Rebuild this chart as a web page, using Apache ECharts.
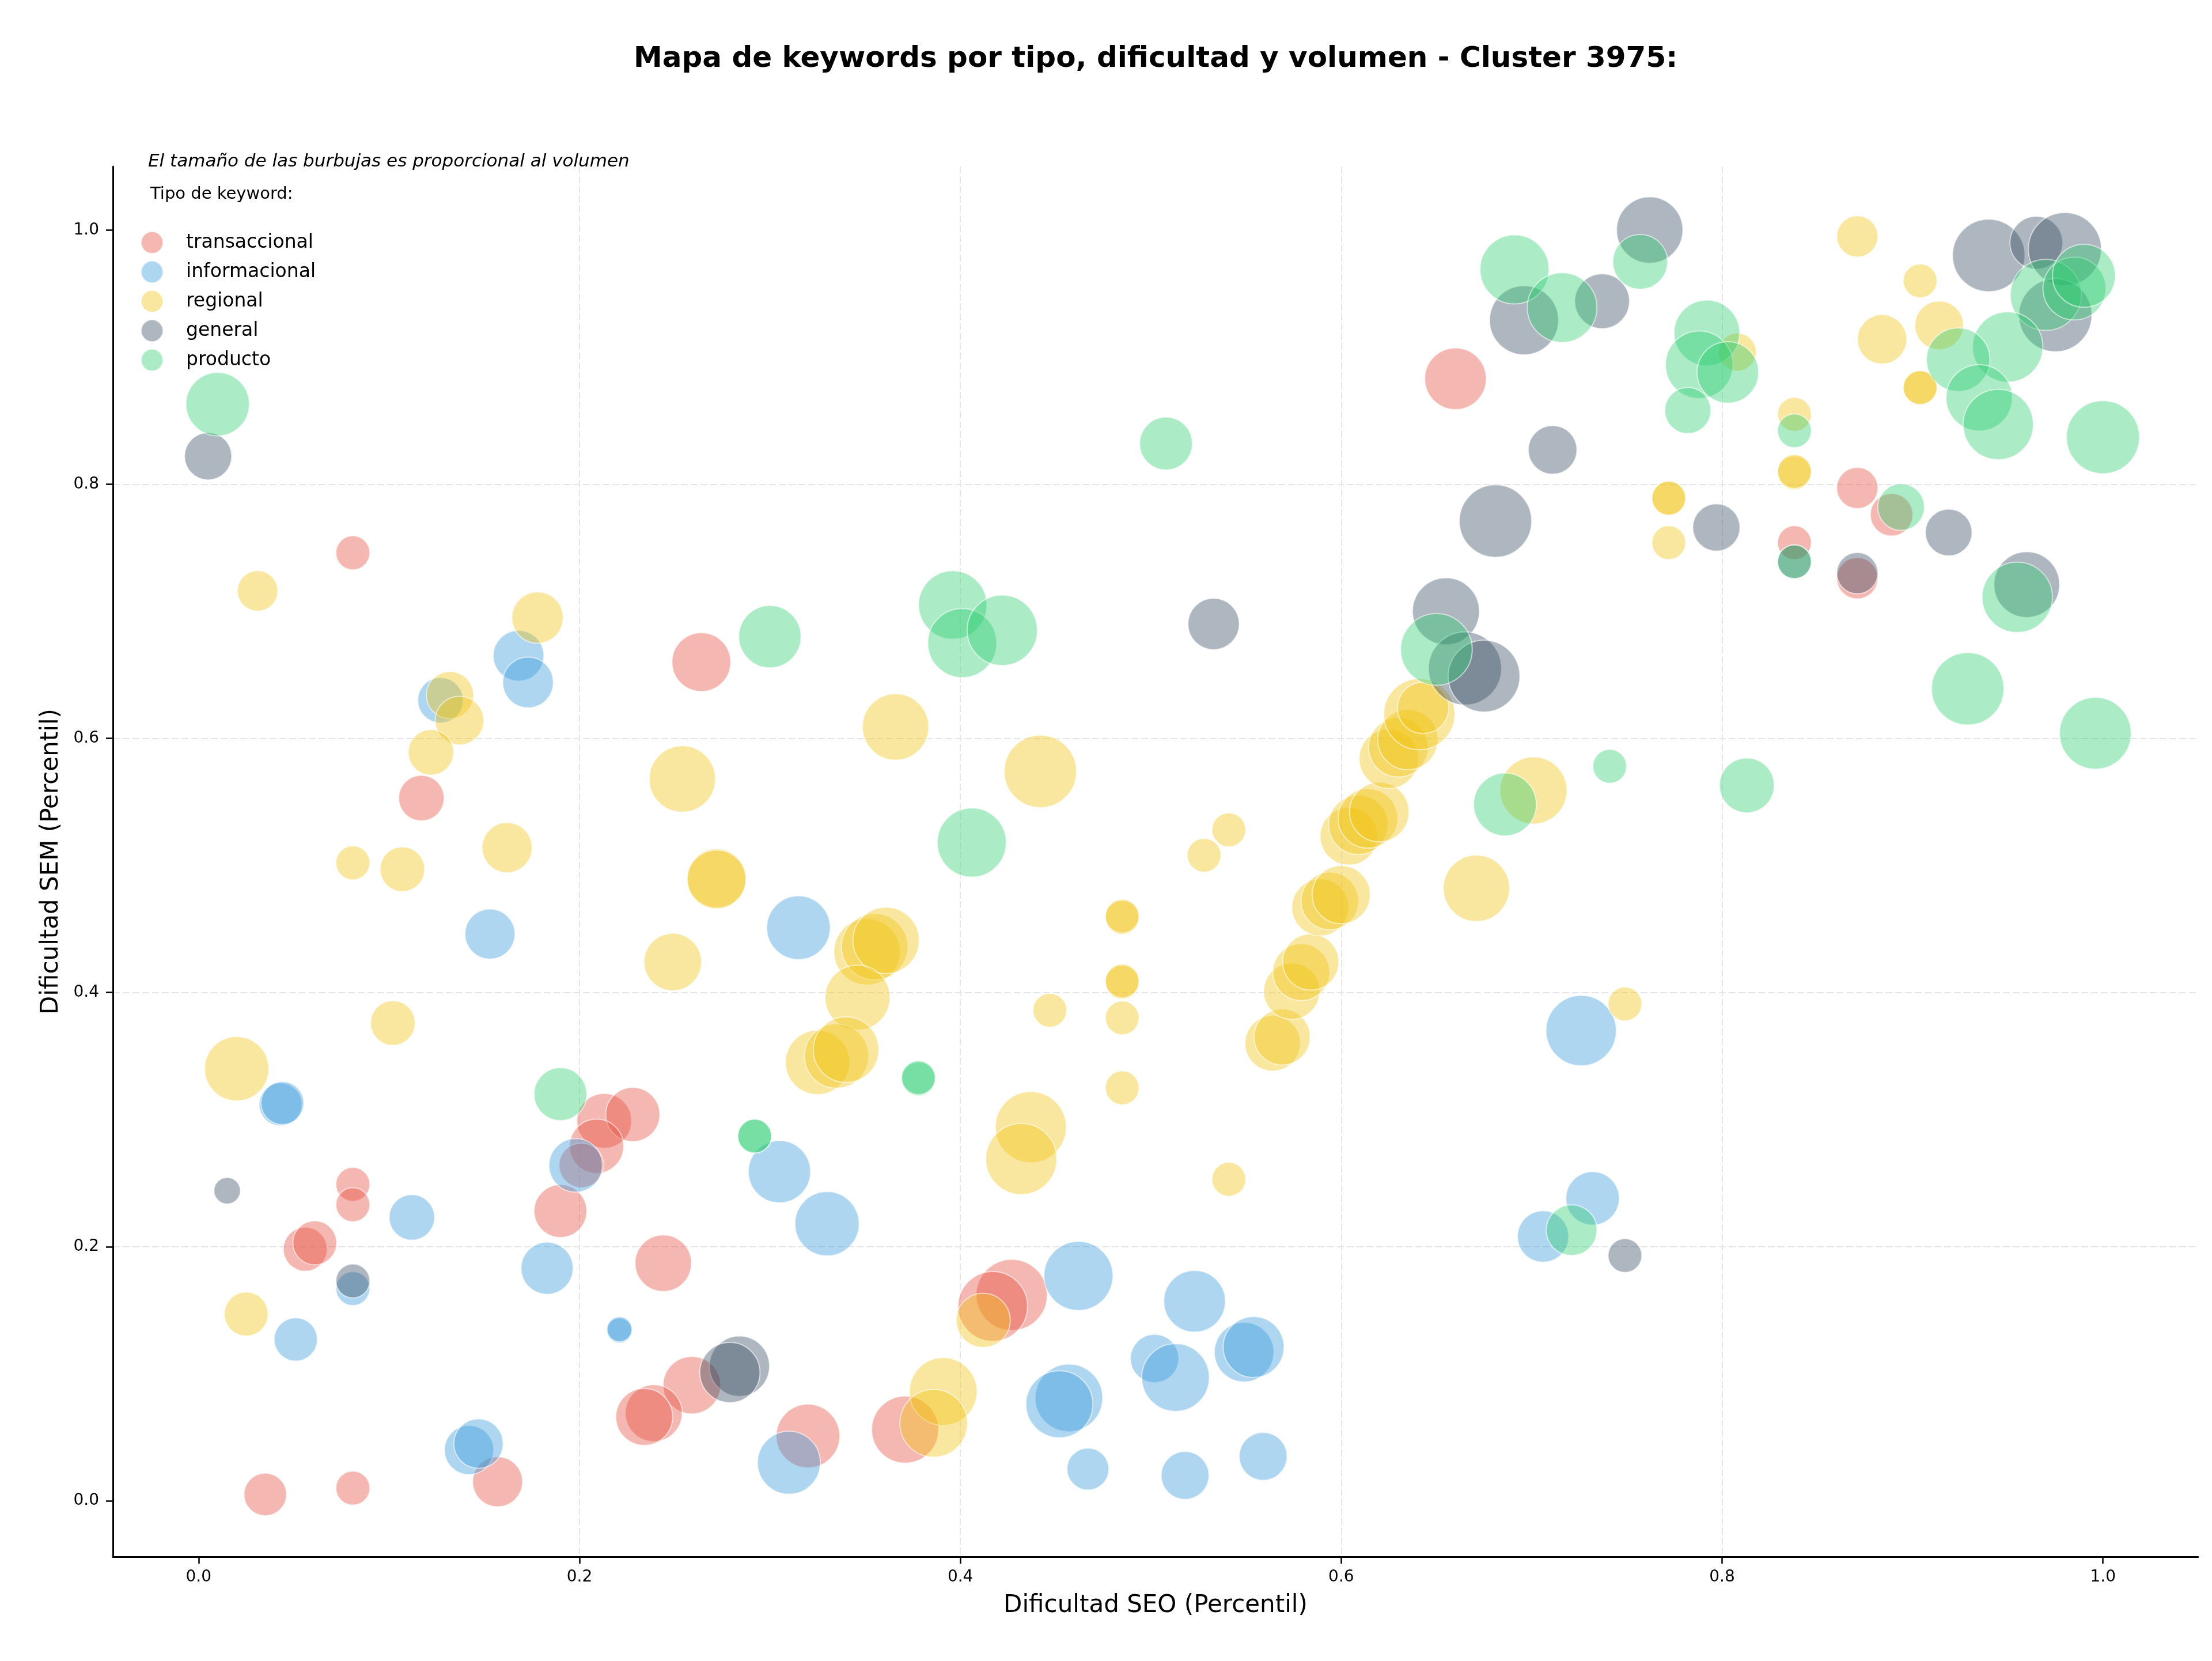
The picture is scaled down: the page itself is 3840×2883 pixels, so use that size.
<!DOCTYPE html>
<html>
<head>
<meta charset="utf-8">
<title>Mapa de keywords - Cluster 3975</title>
<script src="https://cdn.jsdelivr.net/npm/echarts@6.0.0/dist/echarts.min.js"></script>
<style>
  html, body { margin: 0; padding: 0; background: #fff; }
  #chart { width: 3840px; height: 2883px; }
</style>
</head>
<body>
<div id="chart"></div>
<script>
// ejes
const xTicks = [0, 0.2, 0.4, 0.6, 0.8, 1.0];
const yTicks = [0, 0.2, 0.4, 0.6, 0.8, 1.0];

const tipos = ['transaccional', 'informacional', 'regional', 'general', 'producto'];

// transaccional
const transSeo = [0.081, 0.117, 0.081, 0.081, 0.056, 0.061, 0.035, 0.081, 0.157, 0.213, 0.228, 0.209, 0.201, 0.190,
  0.244, 0.259, 0.239, 0.234, 0.320, 0.371, 0.427, 0.417, 0.264, 0.660, 0.838, 0.871, 0.889, 0.871];
const transSem = [0.746, 0.553, 0.249, 0.233, 0.198, 0.203, 0.005, 0.010, 0.015, 0.299, 0.304, 0.279, 0.264, 0.228,
  0.187, 0.091, 0.069, 0.066, 0.051, 0.056, 0.162, 0.153, 0.660, 0.883, 0.754, 0.797, 0.776, 0.726];
const transVol = [217, 390, 217, 217, 363, 363, 341, 217, 472, 564, 551, 551, 375, 524,
  600, 621, 608, 608, 760, 843, 950, 913, 650, 713, 215, 320, 341, 320];

// informacional
const infoSeo = [0.168, 0.173, 0.127, 0.153, 0.043, 0.044, 0.112, 0.081, 0.051, 0.142, 0.147, 0.198, 0.183, 0.221,
  0.221, 0.315, 0.305, 0.330, 0.310, 0.462, 0.457, 0.452, 0.467, 0.502, 0.513, 0.523, 0.549, 0.554,
  0.518, 0.559, 0.726, 0.732, 0.706];
const infoSem = [0.665, 0.644, 0.630, 0.446, 0.312, 0.313, 0.223, 0.167, 0.127, 0.040, 0.045, 0.264, 0.183, 0.134,
  0.135, 0.451, 0.259, 0.218, 0.030, 0.177, 0.081, 0.076, 0.025, 0.112, 0.097, 0.157, 0.117, 0.121,
  0.020, 0.035, 0.370, 0.238, 0.208];
const infoVol = [484, 484, 390, 472, 347, 347, 390, 217, 352, 459, 459, 537, 512, 118,
  118, 760, 729, 777, 745, 896, 860, 843, 331, 441, 860, 714, 666, 697,
  432, 432, 930, 537, 497];

// regional
const regSeo = [0.031, 0.178, 0.132, 0.137, 0.122, 0.081, 0.107, 0.162, 0.102, 0.020, 0.025, 0.272, 0.272, 0.249,
  0.351, 0.355, 0.361, 0.346, 0.325, 0.335, 0.340, 0.485, 0.485, 0.485, 0.485, 0.485, 0.485, 0.447,
  0.437, 0.432, 0.412, 0.391, 0.386, 0.366, 0.254, 0.442, 0.541, 0.564, 0.569, 0.574, 0.579, 0.584,
  0.589, 0.594, 0.600, 0.671, 0.749, 0.528, 0.541, 0.604, 0.609, 0.614, 0.620, 0.625, 0.630, 0.635,
  0.641, 0.643, 0.701, 0.772, 0.772, 0.772, 0.871, 0.904, 0.884, 0.914, 0.904, 0.904, 0.808, 0.838,
  0.838, 0.838];
const regSem = [0.716, 0.695, 0.634, 0.614, 0.589, 0.502, 0.497, 0.514, 0.376, 0.340, 0.147, 0.490, 0.489, 0.424,
  0.432, 0.436, 0.441, 0.396, 0.345, 0.350, 0.355, 0.459, 0.460, 0.408, 0.409, 0.380, 0.325, 0.386,
  0.294, 0.269, 0.142, 0.086, 0.061, 0.609, 0.568, 0.574, 0.253, 0.360, 0.365, 0.401, 0.416, 0.424,
  0.467, 0.472, 0.477, 0.482, 0.391, 0.508, 0.528, 0.523, 0.532, 0.537, 0.542, 0.584, 0.593, 0.599,
  0.619, 0.624, 0.559, 0.789, 0.789, 0.754, 0.995, 0.960, 0.914, 0.925, 0.876, 0.876, 0.904, 0.855,
  0.809, 0.810];
const regVol = [308, 497, 420, 446, 390, 217, 375, 472, 375, 777, 363, 650, 650, 621,
  827, 827, 827, 794, 777, 777, 810, 215, 215, 215, 215, 215, 215, 215,
  950, 950, 551, 860, 860, 827, 827, 986, 215, 579, 593, 593, 608, 593,
  608, 621, 636, 827, 215, 215, 215, 621, 666, 666, 666, 666, 666, 682,
  950, 497, 843, 215, 215, 215, 320, 215, 459, 446, 215, 215, 270, 215,
  215, 215];

// general
const genSeo = [0.005, 0.015, 0.081, 0.284, 0.279, 0.762, 0.696, 0.737, 0.711, 0.681, 0.533, 0.655, 0.665, 0.675,
  0.749, 0.940, 0.965, 0.980, 0.975, 0.797, 0.919, 0.838, 0.871, 0.960];
const genSem = [0.822, 0.244, 0.173, 0.106, 0.101, 1.000, 0.929, 0.944, 0.827, 0.771, 0.690, 0.700, 0.655, 0.649,
  0.193, 0.980, 0.990, 0.985, 0.933, 0.766, 0.762, 0.739, 0.730, 0.721];
const genVol = [420, 132, 217, 682, 682, 827, 896, 564, 446, 986, 497, 843, 1004, 967,
  215, 986, 524, 1004, 1004, 420, 410, 215, 320, 812];

// producto
const prodSeo = [0.010, 0.190, 0.378, 0.378, 0.292, 0.292, 0.508, 0.300, 0.396, 0.401, 0.422, 0.406, 0.757, 0.691,
  0.716, 0.650, 0.686, 0.741, 0.721, 0.792, 0.788, 0.803, 0.782, 0.970, 0.985, 0.990, 0.950, 0.924,
  0.935, 0.945, 1.000, 0.838, 0.894, 0.838, 0.955, 0.929, 0.996, 0.813];
const prodSem = [0.863, 0.320, 0.332, 0.333, 0.287, 0.287, 0.832, 0.680, 0.705, 0.675, 0.685, 0.518, 0.975, 0.969,
  0.939, 0.670, 0.548, 0.578, 0.213, 0.919, 0.894, 0.888, 0.858, 0.949, 0.954, 0.964, 0.908, 0.898,
  0.868, 0.847, 0.837, 0.842, 0.782, 0.739, 0.711, 0.639, 0.604, 0.563];
const prodVol = [756, 524, 215, 215, 215, 215, 524, 729, 878, 896, 930, 896, 564, 896,
  913, 967, 742, 215, 484, 812, 860, 713, 400, 950, 745, 745, 930, 760,
  827, 930, 1004, 215, 410, 215, 930, 986, 967, 564];

const colores = {
  transaccional: 'rgba(231, 76, 60, 0.5)',
  informacional: 'rgba(52, 152, 219, 0.5)',
  regional: 'rgba(241, 196, 15, 0.5)',
  general: 'rgba(52, 73, 94, 0.5)',
  producto: 'rgba(46, 204, 113, 0.5)'
};

const datos = {
  transaccional: [transSeo, transSem, transVol],
  informacional: [infoSeo, infoSem, infoVol],
  regional: [regSeo, regSem, regVol],
  general: [genSeo, genSem, genVol],
  producto: [prodSeo, prodSem, prodVol]
};

const font = 'DejaVu Sans';

const series = tipos.map(tipo => {
  const [xs, ys, vol] = datos[tipo];
  return {
    name: tipo,
    type: 'scatter',
    data: xs.map((x, i) => [x, ys[i], vol[i]]),
    // area proporcional al volumen
    symbolSize: d => Math.sqrt(d[2]) * 4,
    itemStyle: {
      color: colores[tipo],
      borderColor: 'rgba(255,255,255,0.7)',
      borderWidth: 2
    }
  };
});

const tickLabel = v => {
  const k = v * 5;
  return Math.abs(k - Math.round(k)) < 1e-6 ? v.toFixed(1) : '';
};

const chart = echarts.init(document.getElementById('chart'));

const option = {
  animation: false,
  backgroundColor: '#fff',
  title: [
    {
      text: 'Mapa de keywords por tipo, dificultad y volumen - Cluster 3975:',
      left: 1100,
      top: 78,
      padding: 0,
      textStyle: { fontFamily: font, fontSize: 50, fontWeight: 'bold', color: '#000' }
    },
    {
      text: 'El tamaño de las burbujas es proporcional al volumen',
      left: 257,
      top: 265,
      padding: 0,
      textStyle: { fontFamily: font, fontSize: 31, fontStyle: 'italic', fontWeight: 'normal', color: '#000' }
    },
    {
      text: 'Tipo de keyword:',
      left: 261,
      top: 323,
      padding: 0,
      textStyle: { fontFamily: font, fontSize: 29, fontWeight: 'normal', color: '#000' }
    }
  ],
  legend: {
    data: tipos,
    orient: 'vertical',
    left: 244,
    top: 401,
    padding: 0,
    icon: 'circle',
    itemWidth: 108,
    itemHeight: 38,
    itemGap: 11,
    selectedMode: false,
    textStyle: { fontFamily: font, fontSize: 33, color: '#000' }
  },
  grid: { left: 196, right: 24, top: 289, bottom: 181, containLabel: false },
  xAxis: {
    type: 'value',
    min: -0.045,
    max: 1.05,
    name: 'Dificultad SEO (Percentil)',
    nameLocation: 'middle',
    nameGap: 64,
    nameTextStyle: { fontFamily: font, fontSize: 42, color: '#000' },
    axisLine: { show: true, onZero: false, lineStyle: { color: '#000', width: 3 } },
    axisTick: { show: true, length: 12, customValues: xTicks, lineStyle: { color: '#000', width: 2.5 } },
    axisLabel: { fontFamily: font, fontSize: 28, color: '#000', margin: 22, customValues: xTicks, formatter: tickLabel },
    splitLine: { show: true, showMinLine: false, showMaxLine: false, lineStyle: { color: '#e6e6e6', width: 2, type: [12, 5] } }
  },
  yAxis: {
    type: 'value',
    min: -0.044,
    max: 1.05,
    name: 'Dificultad SEM (Percentil)',
    nameLocation: 'middle',
    nameGap: 86,
    nameTextStyle: { fontFamily: font, fontSize: 42, color: '#000' },
    axisLine: { show: true, onZero: false, lineStyle: { color: '#000', width: 3 } },
    axisTick: { show: true, length: 12, customValues: yTicks, lineStyle: { color: '#000', width: 2.5 } },
    axisLabel: { fontFamily: font, fontSize: 28, color: '#000', margin: 24, customValues: yTicks, formatter: tickLabel },
    splitLine: { show: true, showMinLine: false, showMaxLine: false, lineStyle: { color: '#e6e6e6', width: 2, type: [12, 5] } }
  },
  series: series
};

chart.setOption(option);
</script>
</body>
</html>
